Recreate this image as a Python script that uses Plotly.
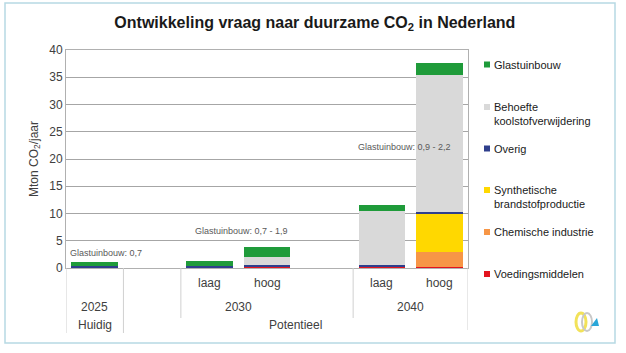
import plotly.graph_objects as go

slots = ["2025", "gap1", "2030 laag", "2030 hoog", "gap2", "2040 laag", "2040 hoog"]
bars = ["2025", "2030 laag", "2030 hoog", "2040 laag", "2040 hoog"]

series_names = ["Voedingsmiddelen", "Chemische industrie", "Synthetische brandstofproductie",
                "Overig", "Behoefte koolstofverwijdering", "Glastuinbouw"]
legend_lines = [["Voedingsmiddelen"], ["Chemische industrie"], ["Synthetische", "brandstofproductie"],
                ["Overig"], ["Behoefte", "koolstofverwijdering"], ["Glastuinbouw"]]
voedingsmiddelen = [0.1, 0.1, 0.15, 0.1, 0.1]
chemische = [0, 0, 0, 0, 2.9]
synthetische = [0, 0, 0, 0, 7.0]
overig = [0.3, 0.3, 0.45, 0.45, 0.35]
behoefte = [0, 0, 1.35, 10.0, 25.1]
glastuinbouw = [0.75, 0.8, 1.95, 0.92, 2.2]
values = [voedingsmiddelen, chemische, synthetische, overig, behoefte, glastuinbouw]
colors = ["#e3141e", "#f79646", "#ffd800", "#2f3f8c", "#d9d9d9", "#1f9b3a"]

level1 = [("2030 laag", "laag"), ("2030 hoog", "hoog"), ("2040 laag", "laag"), ("2040 hoog", "hoog")]
level2 = [(0, "2025"), (2.5, "2030"), (5.5, "2040")]
level3 = [(0, "Huidig"), (3.5, "Potentieel")]

notes = [(-0.47, 2.75, "Glastuinbouw: 0,7", "left"),
         (2.55, 6.8, "Glastuinbouw: 0,7 - 1,9", "center"),
         (5.4, 22.2, "Glastuinbouw: 0,9 - 2,2", "center")]

fig = go.Figure()
for name, vals, col in zip(series_names, values, colors):
    fig.add_trace(go.Bar(x=bars, y=vals, name=name, marker_color=col, marker_line_width=0))

font = "Liberation Sans, Arial, sans-serif"
fig.update_layout(
    width=626, height=353,
    margin=dict(l=66, r=158, t=50, b=85),
    barmode="stack", bargap=0.19,
    paper_bgcolor="white", plot_bgcolor="white",
    font=dict(family=font, size=12, color="#404040"),
    title=dict(text="<b>Ontwikkeling vraag naar duurzame CO<sub>2</sub> in Nederland</b>",
               x=0.503, xref="container", y=1 - 22 / 353, yref="container",
               xanchor="center", yanchor="middle",
               font=dict(size=16, color="#1a1a1a", family=font)),
    showlegend=False,
)
fig.update_xaxes(type="category", categoryorder="array", categoryarray=slots,
                 range=[-0.5, 6.5], showticklabels=False, showgrid=False,
                 ticks="", showline=True, linecolor="#b0b0b0", mirror=True, zeroline=False)
fig.update_yaxes(range=[0, 40], dtick=5, showgrid=True, gridcolor="#a6a6a6", gridwidth=1,
                 showline=True, linecolor="#b0b0b0", mirror=True, ticks="",
                 tickfont=dict(size=12, color="#404040"), zeroline=False,
                 title=dict(text="Mton CO<sub>2</sub>/jaar", font=dict(size=12, color="#404040"), standoff=8))

def py(p):
    return (268 - p) / 218

def px(p):
    return (p - 66) / 402

for cat, lab in level1:
    fig.add_annotation(x=cat, y=py(283), xref="x", yref="paper", text=lab, showarrow=False,
                       yanchor="middle", font=dict(size=12, color="#404040"))
for xv, lab in level2:
    fig.add_annotation(x=xv, y=py(307), xref="x", yref="paper", text=lab, showarrow=False,
                       yanchor="middle", font=dict(size=12, color="#404040"))
for xv, lab in level3:
    fig.add_annotation(x=xv, y=py(325), xref="x", yref="paper", text=lab, showarrow=False,
                       yanchor="middle", font=dict(size=12, color="#404040"))
for xv, yv, lab, anc in notes:
    fig.add_annotation(x=xv, y=yv, xref="x", yref="y", text=lab, showarrow=False, xanchor=anc,
                       yanchor="middle", font=dict(size=9, color="#595959"))

dividers = [(-0.5, 333), (0.5, 333), (1.5, 318), (4.5, 318), (6.5, 330)]
for xv, bottom in dividers:
    fig.add_shape(type="line", x0=xv, x1=xv, y0=0, y1=py(bottom), xref="x", yref="paper",
                  line=dict(color="#d0d0d0", width=1))

# legend (drawn manually, top to bottom = last series to first)
legend_y = [274, 232, 190, 148.5, 107, 64.5]
for lines, col, ly in zip(legend_lines, colors, legend_y):
    fig.add_shape(type="rect", xref="paper", yref="paper", x0=px(484), x1=px(490),
                  y0=py(ly + 3), y1=py(ly - 3), fillcolor=col, line_width=0)
    for k, t in enumerate(lines):
        fig.add_annotation(x=px(492), y=py(ly + 13.5 * k), xref="paper", yref="paper", text=t,
                           showarrow=False, xanchor="left", yanchor="middle",
                           font=dict(size=11, color="#1a1a1a"))

# small logo
fig.add_shape(type="circle", xref="paper", yref="paper", x0=px(576), x1=px(586), y0=py(331), y1=py(313),
              line=dict(color="#f2e25a", width=3))
fig.add_shape(type="circle", xref="paper", yref="paper", x0=px(582), x1=px(592), y0=py(331), y1=py(313),
              line=dict(color="#c8c8c8", width=2))
fig.add_shape(type="path", xref="paper", yref="paper",
              path=f"M {px(591)} {py(326)} L {px(599)} {py(326)} L {px(597)} {py(318)} Z",
              fillcolor="#2aa6d8", line_width=0)

# outer frame
fig.add_shape(type="rect", xref="paper", yref="paper",
              x0=px(5), x1=px(615), y0=py(343), y1=py(3),
              line=dict(color="#b7d9e3", width=1.5))

fig.write_html("out.html")
